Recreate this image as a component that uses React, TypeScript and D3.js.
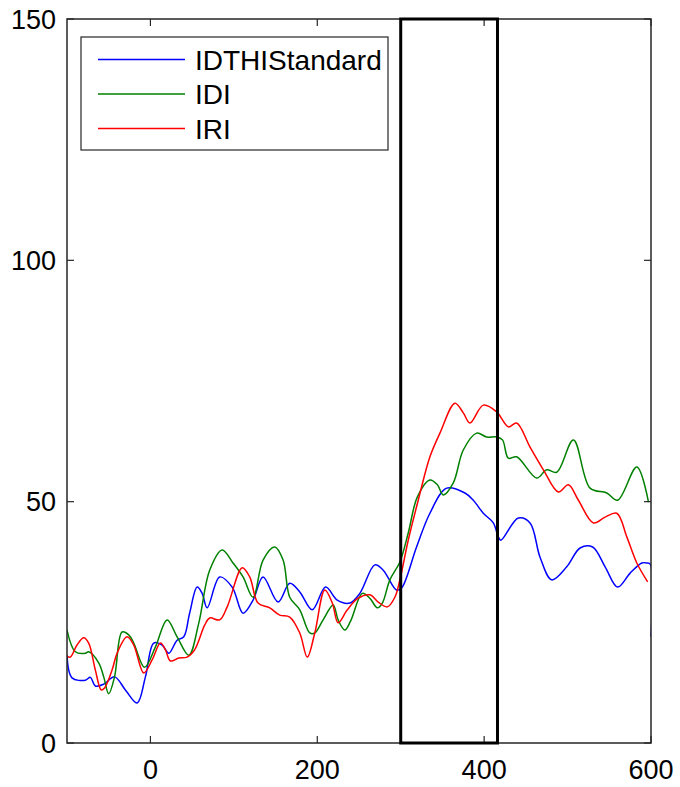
import React from "react";
import * as d3 from "d3";

const seriesNames = ["IDTHIStandard", "IDI", "IRI"];
const seriesColors = ["#0000ff", "#008000", "#ff0000"];

const blueX = [-100, -94, -78, -72, -66, -56, -43, -30, -16, -6, 4, 14, 22, 32, 40, 47, 56, 62, 68, 83, 98, 111, 123, 135, 153, 167, 179, 194, 210, 224, 239, 251, 269, 279, 295, 301, 319, 335, 355, 377, 387, 399, 411, 417, 420, 441, 455, 467, 481, 499, 515, 530, 545, 560, 575, 589, 595, 599.3, 600];
const blueY = [18.2, 13.5, 13, 13.6, 11.8, 12.2, 13.7, 11, 8.3, 13.7, 20.7, 20.3, 18.6, 21.3, 22, 26.9, 32.3, 31, 28, 34.4, 32.3, 26.9, 29.6, 34.4, 29.2, 33.1, 31.3, 27.6, 32.3, 29.6, 29, 31, 36.9, 35.8, 31.7, 32.1, 40.6, 47.6, 52.8, 51.8, 50.3, 47.6, 45.6, 42.7, 42, 46.6, 45.6, 38.5, 33.8, 36.5, 40.4, 40.6, 36.5, 32.3, 35.2, 37.3, 37.3, 37, 22];

const greenX = [-100, -90, -78, -74, -62, -56, -50, -43, -34, -26, -20, -7, 6, 20, 32, 46, 58, 71, 86, 99, 111, 123, 135, 149, 159, 167, 179, 191, 197, 207, 219, 225, 233, 240, 254, 263, 272, 278, 287, 299, 309, 320, 335, 344, 351, 363, 375, 391, 403, 415, 422, 429, 439, 463, 475, 487, 507, 527, 547, 560, 583, 597];
const greenY = [23.4, 18.9, 18.6, 18.9, 16.6, 13.7, 10.2, 13.7, 23, 22.4, 20.7, 15.7, 19.9, 25.5, 22, 18.2, 24.9, 35.8, 40, 37.3, 34.4, 30.2, 37.9, 40.6, 37.9, 30.2, 27.6, 22.8, 22.8, 25.5, 28.6, 25.5, 23.4, 25.3, 31, 30, 28, 29, 33.8, 37.5, 43.5, 51, 54.5, 53.5, 51.4, 53.9, 60.7, 64.2, 63.4, 63.4, 62.8, 59, 59.3, 54.9, 56.6, 56.1, 62.8, 52.8, 51.8, 50.3, 57.2, 49.9];

const redX = [-100, -96, -88, -80, -74, -66, -59, -55, -46, -40, -28, -20, -8, 2, 12, 18, 24, 34, 44, 53, 65, 71, 83, 92, 110, 119, 129, 143, 155, 167, 179, 188, 197, 209, 218, 225, 236, 249, 263, 273, 284, 293, 299, 309, 321, 335, 347, 365, 375, 383, 399, 415, 429, 439, 455, 471, 489, 501, 513, 531, 545, 559, 571, 583, 596];
const redY = [18, 17.8, 20.3, 21.8, 20.7, 15.1, 11, 11.4, 15.1, 18.6, 22, 20.3, 14.5, 17.2, 20.7, 19.3, 17, 17.6, 17.8, 19.3, 24.4, 25.9, 25.5, 28.2, 36.3, 34.4, 29, 28, 26.5, 26.1, 22.8, 17.8, 22.8, 31.7, 29, 24.9, 27.6, 30, 30.7, 29.2, 28.2, 30.2, 33.8, 42, 50.3, 59.3, 64.2, 70.4, 68.4, 66.3, 70, 68.6, 65.5, 66.3, 61.3, 56.6, 52, 53.5, 50.3, 45.6, 46.8, 47.6, 42.7, 37.3, 33.4];

const xTicks = [0, 200, 400, 600];
const yTicks = [0, 50, 100, 150];
const highlightRange = [300, 416];

const W = 680;
const H = 787;
const left = 67;
const right = 651;
const top = 19;
const bottom = 743;
const FONT = "'Liberation Sans', Arial, Helvetica, sans-serif";

export default function App() {
  const x = d3.scaleLinear().domain([-100, 600]).range([left, right]);
  const y = d3.scaleLinear().domain([0, 150]).range([bottom, top]);
  const line = d3
    .line<[number, number]>()
    .x((d) => x(d[0]))
    .y((d) => y(d[1]))
    .curve(d3.curveCatmullRom.alpha(0.5));

  const series: [number, number][][] = [
    blueX.map((v, i) => [v, blueY[i]] as [number, number]),
    greenX.map((v, i) => [v, greenY[i]] as [number, number]),
    redX.map((v, i) => [v, redY[i]] as [number, number]),
  ];

  const tick = 7;
  const axisColor = "#262626";

  return (
    <svg
      width={W}
      height={H}
      style={{ position: "absolute", left: 0, top: 0, background: "#fff" }}
      fontFamily={FONT}
    >
      <rect x={0} y={0} width={W} height={H} fill="#fff" />
      <defs>
        <clipPath id="plotclip">
          <rect x={left} y={top} width={right - left} height={bottom - top} />
        </clipPath>
      </defs>
      <g clipPath="url(#plotclip)">
        {series.map((s, i) => (
          <path
            key={i}
            d={line(s) || ""}
            fill="none"
            stroke={seriesColors[i]}
            strokeWidth={1.5}
          />
        ))}
      </g>
      {/* frame */}
      <rect
        x={left}
        y={top}
        width={right - left}
        height={bottom - top}
        fill="none"
        stroke={axisColor}
        strokeWidth={1.5}
      />
      {xTicks.map((t) => (
        <g key={"x" + t}>
          <line x1={x(t)} x2={x(t)} y1={bottom} y2={bottom - tick} stroke={axisColor} strokeWidth={1.2} />
          <line x1={x(t)} x2={x(t)} y1={top} y2={top + tick} stroke={axisColor} strokeWidth={1.2} />
          <text x={x(t)} y={779} textAnchor="middle" fontSize={27} fill="#000">
            {t}
          </text>
        </g>
      ))}
      {yTicks.map((t) => (
        <g key={"y" + t}>
          <line x1={left} x2={left + tick} y1={y(t)} y2={y(t)} stroke={axisColor} strokeWidth={1.2} />
          <line x1={right} x2={right - tick} y1={y(t)} y2={y(t)} stroke={axisColor} strokeWidth={1.2} />
          <text x={56} y={y(t) + 9.5} textAnchor="end" fontSize={27} fill="#000">
            {t}
          </text>
        </g>
      ))}
      {/* highlight rectangle */}
      <rect
        x={x(highlightRange[0])}
        y={top}
        width={x(highlightRange[1]) - x(highlightRange[0])}
        height={bottom - top}
        fill="none"
        stroke="#000"
        strokeWidth={3}
      />
      {/* legend */}
      <rect x={81} y={37} width={307} height={113} fill="#fff" stroke={axisColor} strokeWidth={1.2} />
      {seriesNames.map((n, i) => (
        <g key={n}>
          <line x1={98} x2={185} y1={59.5 + i * 34.5} y2={59.5 + i * 34.5} stroke={seriesColors[i]} strokeWidth={1.3} />
          <text x={195} y={59.5 + i * 34.5 + 10} fontSize={28} fill="#000">
            {n}
          </text>
        </g>
      ))}
    </svg>
  );
}
